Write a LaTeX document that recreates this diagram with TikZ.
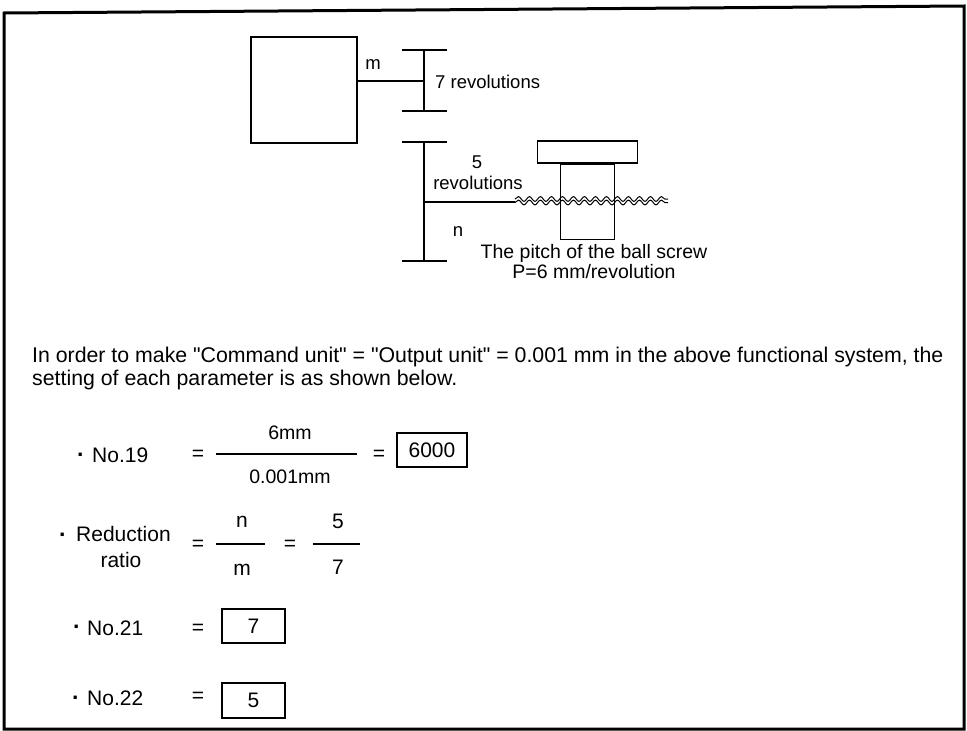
\documentclass[tikz,border=0pt]{standalone}
\usepackage{fontspec}
\setmainfont{Liberation Sans}[Ligatures=TeXOff]
\usetikzlibrary{decorations.pathmorphing}
\begin{document}
\begin{tikzpicture}[x=1pt,y=-1pt,
  lbl/.style={inner sep=0pt, font=\fontsize{18.5}{21}\selectfont},
  pitch/.style={inner sep=0pt, font=\fontsize{19.5}{22}\selectfont},
  para/.style={inner sep=0pt, anchor=base west, font=\fontsize{21.3}{23}\selectfont},
  eq/.style={inner sep=0pt, font=\fontsize{21}{24}\selectfont},
  bul/.style={inner sep=0pt, font=\fontsize{23}{24}\selectfont\bfseries},
  eqs/.style={inner sep=0pt, font=\fontsize{19.5}{22}\selectfont},
  part/.style={line width=1.3pt},
  gearbar/.style={line width=2pt},
  fracline/.style={line width=1.5pt},
  valbox/.style={draw, line width=1.4pt, inner sep=0pt, minimum height=34pt, font=\fontsize{21}{24}\selectfont},
  thread/.style={line width=1pt, decorate, decoration={snake, amplitude=2.4pt, segment length=11pt}}]
\useasboundingbox (0,0) rectangle (967,731);
% frame
\draw[line width=3pt] (4,13) -- (964,6) -- (964,729) -- (4,729) -- cycle;

% motor
\node[draw, part, minimum width=106pt, minimum height=106pt, inner sep=0pt] (motor) at (304,90) {};
\coordinate (g1) at (424,81);
\draw[part] ([yshift=9pt]motor.east) -- (g1);
% top gear
\draw[part] (424,50) -- (424,111);
\draw[gearbar] (402,50) -- (447,50);
\draw[gearbar] (402,111) -- (447,111);
\node[lbl] (mlbl) at (373,65) {m};
\node[lbl, anchor=west] (rev7) at (435,82) {7 revolutions};

% bottom gear
\draw[part] (424,142) -- (424,261);
\draw[gearbar] (402,142) -- (447,142);
\draw[gearbar] (402,261) -- (447,261);
\node[lbl] (five) at (477,162) {5};
\node[lbl] (rev5) at (478,183) {revolutions};
\node[lbl] (nlbl) at (458,232) {n};
\coordinate (g2) at (424,202);
\coordinate (s1) at (515,202);
\draw[part] (g2) -- (s1);
% ball screw thread
\draw[thread] (515,199) -- (668,199);
\draw[thread] (515,202.5) -- (668,202.5);

% table and nut
\node[draw, part, minimum width=100pt, minimum height=22pt, inner sep=0pt] (table) at (587.5,152) {};
\node[draw, part, minimum width=54pt, minimum height=75pt, inner sep=0pt, anchor=north] (nut) at (table.south) {};

\node[pitch] (pitch1) at (594,253) {The pitch of the ball screw};
\node[pitch] (pitch2) at (594,272) {P=6 mm/revolution};

% paragraph
\node[para] (p1) at (32,362) {In order to make "Command unit" = "Output unit" = 0.001 mm in the above functional system, the};
\node[para] (p2) at (32,385) {setting of each parameter is as shown below.};

% No.19
\node[bul] (d19) at (81,458) {·};
\node[eq, anchor=west] (n19) at (92,455) {No.19};
\node[eq] (e19a) at (198,455) {=};
\draw[fracline] (216,454) -- (357,454);
\node[eqs] (num19) at (290,433) {6mm};
\node[eqs] (den19) at (290,477) {0.001mm};
\node[eq] (e19b) at (379,455) {=};
\node[valbox, minimum width=70pt] (v19) at (432,450) {6000};

% Reduction ratio
\node[bul] (dr) at (63,538) {·};
\node[eq, anchor=west] (red) at (76,534) {Reduction};
\node[eq] (ratio) at (121,560) {ratio};
\node[eq] (era) at (198,545) {=};
\draw[fracline] (216,544) -- (265,544);
\node[eq] (nn) at (242,522) {n};
\node[eq] (mm) at (242,570) {m};
\node[eq] (erb) at (290,545) {=};
\draw[fracline] (313,544) -- (360,544);
\node[eq] (r5) at (338,521) {5};
\node[eq] (r7) at (338,567) {7};

% No.21
\node[bul] (d21) at (77,630) {·};
\node[eq, anchor=west] (n21) at (87,628) {No.21};
\node[eq] (e21) at (198,629) {=};
\node[valbox, minimum width=63pt] (v21) at (253.5,626) {7};

% No.22
\node[bul] (d22) at (76,701) {·};
\node[eq, anchor=west] (n22) at (87,698) {No.22};
\node[eq] (e22) at (198,697) {=};
\node[valbox, minimum width=63pt, minimum height=35pt] (v22) at (253.5,700.5) {5};
\end{tikzpicture}
\end{document}
